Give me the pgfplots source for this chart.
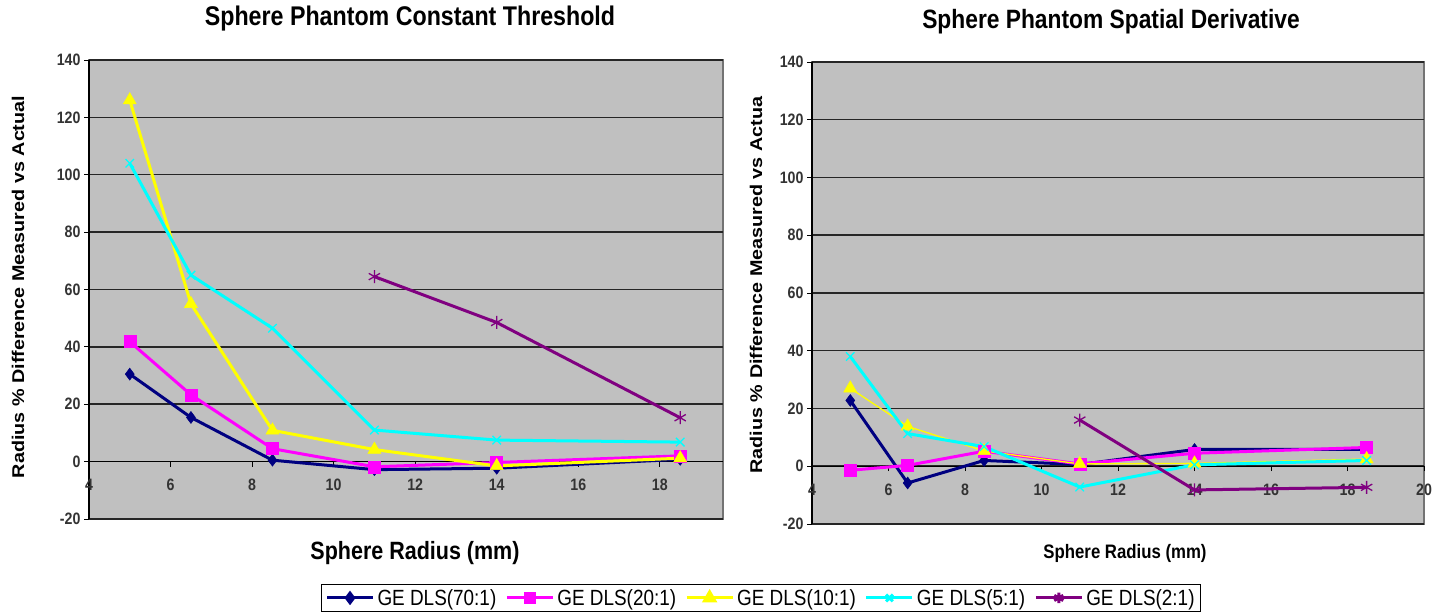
\documentclass[border=0pt]{standalone}
\usepackage{fontspec}
\setmainfont{Liberation Sans}[FakeStretch=0.86]
\newfontfamily\ylabfont{Liberation Sans}[FakeStretch=1.163]
\usepackage{pgfplots}
\pgfplotsset{compat=1.18}

\definecolor{plotbg}{HTML}{C0C0C0}
\definecolor{xnavy}{HTML}{000080}
\definecolor{xmag}{HTML}{FF00FF}
\definecolor{xyel}{HTML}{FFFF00}
\definecolor{xcyan}{HTML}{00FFFF}
\definecolor{xpurp}{HTML}{800080}

\pgfplotsset{
  excel/.style={
    scale only axis,
    ymin=-20, ymax=140,
    ytick={-20,0,...,140},
    axis x line*=middle,
    axis y line*=left,
    hide obscured x ticks=false,
    axis background/.style={fill=plotbg, draw=black!55, line width=1.2pt},
    ymajorgrids,
    major grid style={black!85, line width=1.5pt},
    tick align=outside,
    major tick length=5pt,
    tick style={black, line width=0.8pt},
    axis line style={black, line width=1.2pt},
    ticklabel style={font=\bfseries\fontsize{16.5}{16.5}\selectfont, text=black!80},
    xticklabel style={yshift=-9pt},
    /pgf/number format/assume math mode=true,
    every axis plot/.append style={line width=3pt},
    clip=false,
  },
  s70/.style={xnavy, mark=diamond*, mark size=6pt, mark options={solid, line width=0.5pt}},
  s20/.style={xmag, mark=square*, mark size=6pt, mark options={solid, line width=0.5pt}},
  s10/.style={xyel, mark=triangle*, mark size=7.5pt, mark options={solid, line width=0.5pt}},
  s5/.style={xcyan, mark=x, mark size=6pt, mark options={solid, line width=1.3pt}},
  s2/.style={xpurp, mark=asterisk, mark size=6.5pt, mark options={solid, line width=1.3pt}},
}

\begin{document}
\begin{tikzpicture}
\path[use as bounding box] (0pt,0pt) rectangle (1446pt,615pt);

% left chart: constant threshold
\begin{axis}[excel,
    at={(89pt,96pt)}, anchor=south west,
    width=634pt, height=459pt,
    xmin=4, xmax=19.55,
    xtick={4,6,...,18},
    legend columns=5,
    legend cell align=left,
    legend style={at={(1.06,-0.172)}, anchor=center,
      draw=black, line width=1.2pt, fill=white,
      font=\fontsize{22}{22}\selectfont,
      inner xsep=4pt, inner ysep=3pt,
      /tikz/every odd column/.append style={column sep=1pt},
      /tikz/every even column/.append style={column sep=7pt}},
    legend image code/.code={
      \draw[line width=3pt, mark repeat=2, mark phase=2,
            mark options={scale=0.8}]
        plot coordinates {(0pt,0pt) (23pt,0pt) (46pt,0pt)};},
  ]
\addplot[s70] coordinates {(5,30.5) (6.5,15.4) (8.5,0.5) (11,-2.8) (14,-2.3) (18.5,0.8)};
\addplot[s20] coordinates {(5,41.8) (6.5,23.3) (8.5,4.5) (11,-1.8) (14,-0.3) (18.5,2)};
\addplot[s10] coordinates {(5,126) (6.5,55) (8.5,10.9) (11,4.2) (14,-1.5) (18.5,1.2)};
\addplot[s5] coordinates {(5,104) (6.5,65) (8.5,46.5) (11,11) (14,7.5) (18.5,6.8)};
\addplot[s2] coordinates {(11,64.5) (14,48.5) (18.5,15.3)};
\legend{GE DLS(70:1),GE DLS(20:1),GE DLS(10:1),GE DLS(5:1),GE DLS(2:1)}
\end{axis}

% right chart: spatial derivative
\begin{axis}[excel,
    at={(812pt,91pt)}, anchor=south west,
    width=612pt, height=462pt,
    xmin=4, xmax=20,
    xtick={4,6,...,20},
  ]
\addplot[s70] coordinates {(5,22.8) (6.5,-5.8) (8.5,2) (11,0.6) (14,5.8) (18.5,5.8)};
\addplot[s20] coordinates {(5,-1.4) (6.5,0.3) (8.5,5.2) (11,0.8) (14,4.5) (18.5,6.5)};
\addplot[s10, line width=1.3pt] coordinates {(5,27) (6.5,13.8) (8.5,5.3) (11,0.8) (14,1) (18.5,2.5)};
\addplot[s5] coordinates {(5,38) (6.5,11.3) (8.5,6.8) (11,-7.2) (14,0.5) (18.5,2)};
\addplot[s2] coordinates {(11,16) (14,-8.2) (18.5,-7.3)};
\end{axis}

% titles and axis labels
\node[font=\bfseries\fontsize{27}{27}\selectfont] at (410pt,596pt) {Sphere Phantom Constant Threshold};
\node[font=\bfseries\fontsize{26.5}{26.5}\selectfont] at (1111pt,593pt) {Sphere Phantom Spatial Derivative};
\node[font=\bfseries\fontsize{25}{25}\selectfont] at (415pt,62pt) {Sphere Radius (mm)};
\node[font=\bfseries\fontsize{19.5}{19.5}\selectfont] at (1125pt,62pt) {Sphere Radius (mm)};
\node[rotate=90, font=\ylabfont\bfseries\fontsize{17}{17}\selectfont] at (18pt,328pt) {Radius \% Difference Measured vs Actual};
\node[rotate=90, font=\ylabfont\bfseries\fontsize{17}{17}\selectfont] at (756pt,330pt) {Radius \% Difference Measured vs Actua};
\end{tikzpicture}
\end{document}
